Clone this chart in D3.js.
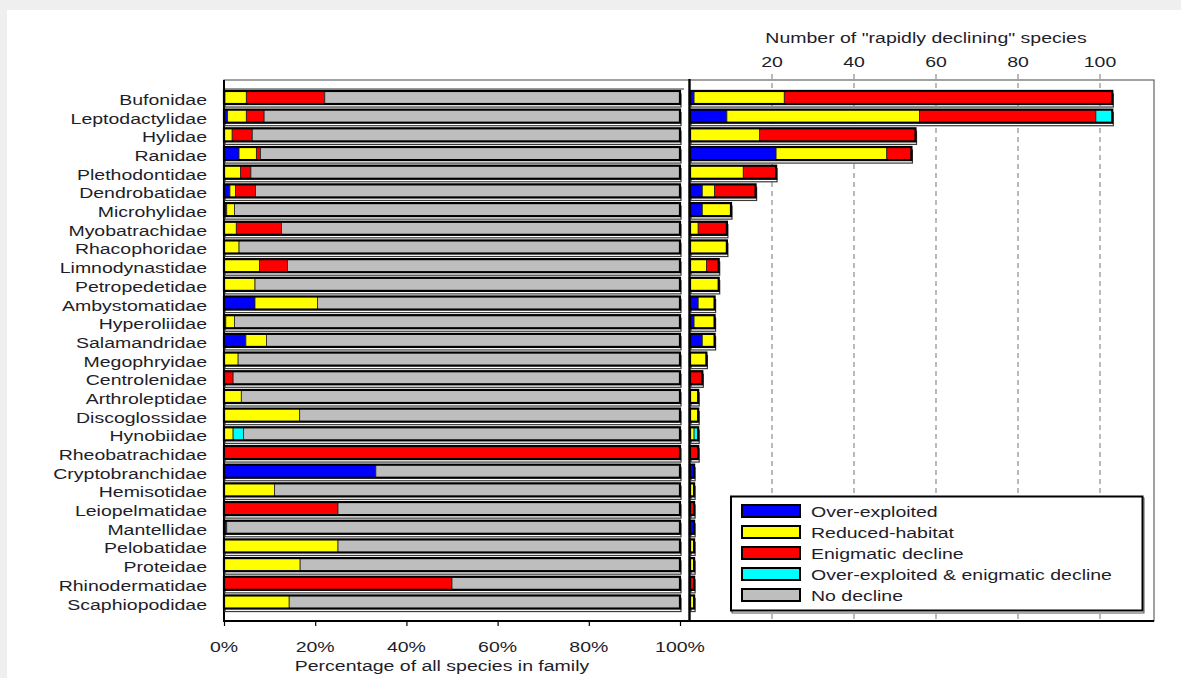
<!DOCTYPE html>
<html>
<head>
<meta charset="utf-8">
<script src="https://cdn.jsdelivr.net/npm/d3@7"></script>
<style>
  html, body { margin: 0; padding: 0; background: #fff; }
  svg { display: block; }
  text { font-family: "Liberation Sans", Arial, Helvetica, sans-serif; fill: #1e1e2a; }
</style>
</head>
<body>
<svg id="chart" width="1181" height="678"></svg>
<script>
// Amphibian families, top to bottom
const families = ["Bufonidae", "Leptodactylidae", "Hylidae", "Ranidae", "Plethodontidae",
  "Dendrobatidae", "Microhylidae", "Myobatrachidae", "Rhacophoridae", "Limnodynastidae",
  "Petropedetidae", "Ambystomatidae", "Hyperoliidae", "Salamandridae", "Megophryidae",
  "Centrolenidae", "Arthroleptidae", "Discoglossidae", "Hynobiidae", "Rheobatrachidae",
  "Cryptobranchidae", "Hemisotidae", "Leiopelmatidae", "Mantellidae", "Pelobatidae",
  "Proteidae", "Rhinodermatidae", "Scaphiopodidae"];

// Share of all species in each family (%), per cause of decline
const pctOverExploited   = [0.2, 0.8, 0, 3.3, 0, 1.3, 0.6, 0, 0, 0, 0, 6.8, 0.4, 4.8, 0, 0, 0, 0, 0, 0, 33.3, 0, 0, 0.6, 0, 0, 0, 0];
const pctReducedHabitat  = [4.7, 4.1, 1.8, 3.8, 3.6, 1.2, 1.7, 2.7, 3.3, 7.8, 6.8, 13.7, 1.9, 4.5, 3.1, 0, 3.8, 16.6, 2.0, 0, 0, 11.1, 0, 0, 25, 16.7, 0, 14.3];
const pctEnigmatic       = [17.2, 3.9, 4.4, 0.9, 2.3, 4.4, 0, 9.9, 0, 6.1, 0, 0, 0, 0, 0, 2.0, 0, 0, 0, 100, 0, 0, 25, 0, 0, 0, 50, 0];
const pctOverEnigmatic   = [0, 0, 0, 0, 0, 0, 0, 0, 0, 0, 0, 0, 0, 0, 0, 0, 0, 0, 2.3, 0, 0, 0, 0, 0, 0, 0, 0, 0];

// Number of "rapidly declining" species per family, per cause
const cntOverExploited   = [1, 9, 0, 21, 0, 3, 3, 0, 0, 0, 0, 2, 1, 3, 0, 0, 0, 0, 0, 0, 1, 0, 0, 1, 0, 0, 0, 0];
const cntReducedHabitat  = [22, 47, 17, 27, 13, 3, 7, 2, 9, 4, 7, 4, 5, 3, 4, 0, 2, 2, 1, 0, 0, 1, 0, 0, 1, 1, 0, 1];
const cntEnigmatic       = [80, 43, 38, 6, 8, 10, 0, 7, 0, 3, 0, 0, 0, 0, 0, 3, 0, 0, 0, 2, 0, 0, 1, 0, 0, 0, 1, 0];
const cntOverEnigmatic   = [0, 4, 0, 0, 0, 0, 0, 0, 0, 0, 0, 0, 0, 0, 0, 0, 0, 0, 1, 0, 0, 0, 0, 0, 0, 0, 0, 0];

const causes = ["Over-exploited", "Reduced-habitat", "Enigmatic decline",
  "Over-exploited & enigmatic decline", "No decline"];
const causeColors = ["#0000ff", "#ffff00", "#ff0000", "#00ffff", "#bebebe"];

const pctTicks = [0, 20, 40, 60, 80, 100];
const cntTicks = [20, 40, 60, 80, 100];

const svg = d3.select("#chart");
const SX = 1.3; // horizontal stretch of the type

// page backdrop
svg.append("rect").attr("width", 1181).attr("height", 678).attr("fill", "#efefef");
svg.append("rect").attr("x", 7).attr("y", 10).attr("width", 1174).attr("height", 668).attr("fill", "#ffffff");

const plotTop = 80, plotBottom = 621;
const xPct = d3.scaleLinear().domain([0, 100]).range([224, 680]);
const xCnt = d3.scaleLinear().domain([0, 100]).range([690, 1100]);
const rightEdge = 1154;
const y = d3.scaleBand().domain(families).range([88.15, 611.35]).paddingInner(0.3).paddingOuter(0.15);
const bh = y.bandwidth();

function stretchedText(g, x, yy, str, anchor, size) {
  return g.append("text")
    .attr("transform", `translate(${x},${yy}) scale(${SX},1)`)
    .attr("text-anchor", anchor)
    .attr("font-size", size)
    .text(str);
}

// plot frame
const frame = svg.append("g");
frame.append("rect").attr("x", 224).attr("y", plotTop).attr("width", rightEdge - 224).attr("height", plotBottom - plotTop)
  .attr("fill", "#fff").attr("stroke", "#444").attr("stroke-width", 1);
// inner rule under the top edge of the percentage panel
frame.append("line").attr("x1", 224).attr("x2", 684).attr("y1", 89).attr("y2", 89)
  .attr("stroke", "#333").attr("stroke-width", 1.2);

// dashed grid of the count panel
const grid = svg.append("g");
grid.selectAll("line").data(cntTicks).join("line")
  .attr("x1", d => xCnt(d)).attr("x2", d => xCnt(d))
  .attr("y1", plotTop - 6).attr("y2", plotBottom)
  .attr("stroke", "#8c8c8c").attr("stroke-width", 1.2).attr("stroke-dasharray", "5,4");

// build stacked segments for both panels
function segments(values, withRemainder) {
  return families.map((f, i) => {
    let acc = 0;
    const segs = [];
    values.forEach((arr, k) => {
      const v = arr[i];
      if (v > 0) segs.push({ k, x0: acc, x1: acc + v });
      acc += v;
    });
    if (withRemainder && acc < 100) segs.push({ k: 4, x0: acc, x1: 100 });
    const end = withRemainder ? 100 : acc;
    return { f, segs, end };
  });
}

const pctRows = segments([pctOverExploited, pctReducedHabitat, pctEnigmatic, pctOverEnigmatic], true);
const cntRows = segments([cntOverExploited, cntReducedHabitat, cntEnigmatic, cntOverEnigmatic], false);

function drawPanel(rows, scale) {
  const g = svg.append("g");
  const row = g.selectAll("g.row").data(rows).join("g").attr("class", "row")
    .attr("transform", d => `translate(0,${y(d.f)})`);
  // drop shadow under each bar
  row.append("rect")
    .attr("x", scale(0) + 1).attr("y", 3)
    .attr("width", d => scale(d.end) - scale(0)).attr("height", bh)
    .attr("fill", "none").attr("stroke", "#3a3a3a").attr("stroke-width", 1.2);
  row.selectAll("rect.seg").data(d => d.segs).join("rect").attr("class", "seg")
    .attr("x", d => scale(d.x0)).attr("y", 0)
    .attr("width", d => scale(d.x1) - scale(d.x0)).attr("height", bh)
    .attr("fill", d => causeColors[d.k])
    .attr("stroke", "#222").attr("stroke-width", 0.8);
  // outline of the whole bar
  row.append("rect")
    .attr("x", scale(0)).attr("y", 0)
    .attr("width", d => scale(d.end) - scale(0)).attr("height", bh)
    .attr("fill", "none").attr("stroke", "#000").attr("stroke-width", 2.2);
}

drawPanel(pctRows, xPct);
drawPanel(cntRows, xCnt);

// axis lines
frame.append("line").attr("x1", 224).attr("x2", 224).attr("y1", plotTop).attr("y2", plotBottom + 1)
  .attr("stroke", "#000").attr("stroke-width", 2);
svg.append("line").attr("x1", 689.5).attr("x2", 689.5).attr("y1", plotTop - 1).attr("y2", plotBottom + 1)
  .attr("stroke", "#000").attr("stroke-width", 2.4);
svg.append("line").attr("x1", 223).attr("x2", rightEdge).attr("y1", plotBottom).attr("y2", plotBottom)
  .attr("stroke", "#000").attr("stroke-width", 2);

// bottom axis: percentage
const axB = svg.append("g").attr("transform", `translate(0,${plotBottom})`)
  .call(d3.axisBottom(xPct).tickValues(pctTicks).tickFormat(d => d + "%").tickSize(5).tickSizeOuter(0));
axB.select(".domain").remove();
axB.selectAll(".tick line").attr("stroke", "#000").attr("stroke-width", 1.2);
axB.selectAll(".tick text").remove();
pctTicks.forEach(t => stretchedText(svg, xPct(t), 652, t + "%", "middle", 15));
stretchedText(svg, 442, 671, "Percentage of all species in family", "middle", 15);

// top axis: counts
const axT = svg.append("g").attr("transform", `translate(0,${plotTop})`)
  .call(d3.axisTop(xCnt).tickValues(cntTicks).tickSize(0).tickSizeOuter(0));
axT.select(".domain").remove();
axT.selectAll(".tick text").remove();
cntTicks.forEach(t => stretchedText(svg, xCnt(t), 67, String(t), "middle", 15));
stretchedText(svg, 926, 43, "Number of \"rapidly declining\" species", "middle", 15);

// family labels
const lab = svg.append("g");
families.forEach(f => stretchedText(lab, 207, y(f) + bh / 2 + 7.5, f, "end", 15));

// legend
const lg = svg.append("g");
lg.append("rect").attr("x", 732).attr("y", 498).attr("width", 412).attr("height", 115)
  .attr("fill", "none").attr("stroke", "#555").attr("stroke-width", 1);
lg.append("rect").attr("x", 731).attr("y", 496.5).attr("width", 411.5).attr("height", 114)
  .attr("fill", "#fff").attr("stroke", "#000").attr("stroke-width", 2);
causes.forEach((c, i) => {
  const yy = 505 + i * 21;
  lg.append("rect").attr("x", 742).attr("y", yy).attr("width", 58).attr("height", 12)
    .attr("fill", causeColors[i]).attr("stroke", "#000").attr("stroke-width", 2);
  stretchedText(lg, 811, yy + 11.5, c, "start", 15);
});
</script>
</body>
</html>
